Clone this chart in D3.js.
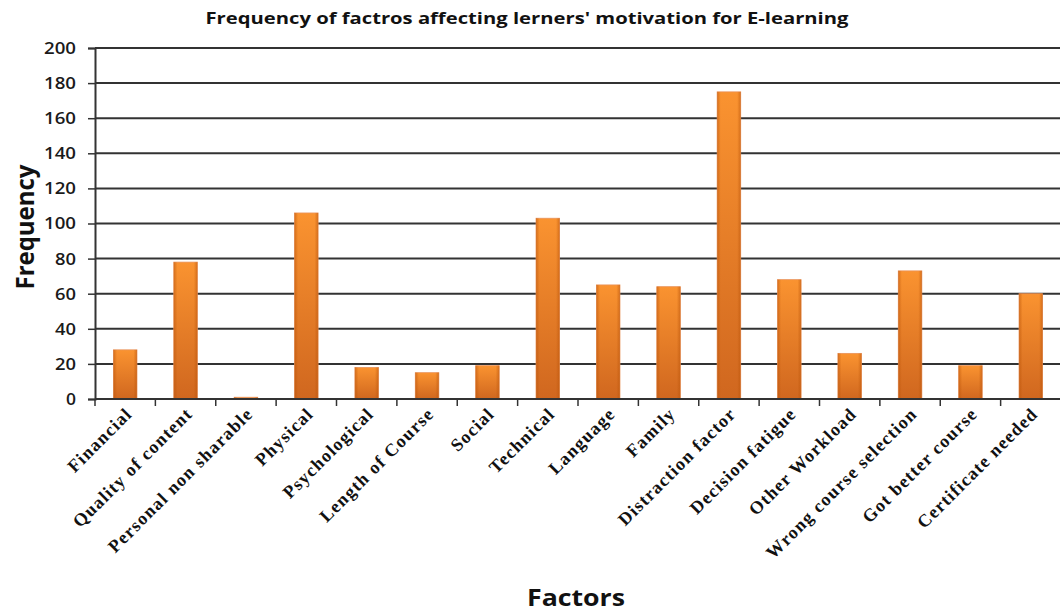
<!DOCTYPE html>
<html>
<head>
<meta charset="utf-8">
<script src="https://cdnjs.cloudflare.com/ajax/libs/d3/7.8.5/d3.min.js"></script>
<style>
  body { margin: 0; background: #fff; }
  svg { display: block; }
</style>
</head>
<body>
<svg id="chart"></svg>
<script>
// data
const factors = ["Financial", "Quality of content", "Personal non sharable", "Physical",
  "Psychological", "Length of Course", "Social", "Technical", "Language", "Family",
  "Distraction factor", "Decision fatigue", "Other Workload", "Wrong course selection",
  "Got better course", "Certificate needed"];
const frequency = [28, 78, 1, 106, 18, 15, 19, 103, 65, 64, 175, 68, 26, 73, 19, 60];
const yTicks = [0, 20, 40, 60, 80, 100, 120, 140, 160, 180, 200];

const width = 1060, height = 614;
const margin = {top: 48, right: -1, bottom: 215, left: 95};

const svg = d3.select("#chart").attr("width", width).attr("height", height);

const x = d3.scaleBand()
  .domain(factors)
  .range([margin.left, width - margin.right])
  .paddingInner(0.61)
  .paddingOuter(0.305);

const y = d3.scaleLinear()
  .domain([0, 200])
  .range([height - margin.bottom, margin.top]);

// gradient for the bars
const defs = svg.append("defs");
const grad = defs.append("linearGradient").attr("id", "barGrad")
  .attr("x1", 0).attr("y1", 0).attr("x2", 0).attr("y2", 1);
grad.append("stop").attr("offset", "0%").attr("stop-color", "#fa9330");
grad.append("stop").attr("offset", "100%").attr("stop-color", "#d0671f");

const edge = defs.append("linearGradient").attr("id", "edgeGrad")
  .attr("x1", 0).attr("y1", 0).attr("x2", 1).attr("y2", 0);
edge.append("stop").attr("offset", "0%").attr("stop-color", "#b95308").attr("stop-opacity", 0.55);
edge.append("stop").attr("offset", "15%").attr("stop-color", "#b95308").attr("stop-opacity", 0);
edge.append("stop").attr("offset", "85%").attr("stop-color", "#b95308").attr("stop-opacity", 0);
edge.append("stop").attr("offset", "100%").attr("stop-color", "#b95308").attr("stop-opacity", 0.55);

// gridlines
svg.append("g")
  .selectAll("line")
  .data(yTicks.filter(d => d > 0))
  .join("line")
    .attr("x1", margin.left)
    .attr("x2", width)
    .attr("y1", d => y(d))
    .attr("y2", d => y(d))
    .attr("stroke", "#333")
    .attr("stroke-width", 2);

// bars
const bars = svg.append("g");
bars.selectAll("rect.bar")
  .data(frequency)
  .join("rect")
    .attr("class", "bar")
    .attr("x", (d, i) => x(factors[i]))
    .attr("y", d => y(d))
    .attr("width", x.bandwidth())
    .attr("height", d => y(0) - y(d))
    .attr("fill", "url(#barGrad)")
    .attr("stroke", "#e8925a")
    .attr("stroke-width", 0.8);
bars.selectAll("rect.edge")
  .data(frequency)
  .join("rect")
    .attr("class", "edge")
    .attr("x", (d, i) => x(factors[i]))
    .attr("y", d => y(d))
    .attr("width", x.bandwidth())
    .attr("height", d => y(0) - y(d))
    .attr("fill", "url(#edgeGrad)");

// y axis
const yAxis = svg.append("g")
  .attr("transform", `translate(${margin.left},0)`)
  .call(d3.axisLeft(y).tickValues(yTicks).tickSize(7).tickPadding(12));
yAxis.select(".domain").attr("stroke", "#333").attr("stroke-width", 2);
yAxis.selectAll(".tick line").attr("stroke", "#333").attr("stroke-width", 1.5);
yAxis.selectAll(".tick text")
  .attr("font-family", "'Open Sans', sans-serif")
  .attr("font-size", 17)
  .attr("font-weight", 600)
  .attr("textLength", d => d >= 100 ? 32 : d > 0 ? 21 : 10)
  .attr("lengthAdjust", "spacingAndGlyphs")
  .attr("fill", "#1a1a1a");

// x axis baseline + ticks at band boundaries
const step = x.step();
const boundaries = d3.range(factors.length + 1).map(i => margin.left + i * step);
svg.append("line")
  .attr("x1", margin.left).attr("x2", width)
  .attr("y1", y(0)).attr("y2", y(0))
  .attr("stroke", "#333").attr("stroke-width", 2);
svg.append("g").selectAll("line")
  .data(boundaries)
  .join("line")
    .attr("x1", d => d).attr("x2", d => d)
    .attr("y1", y(0)).attr("y2", y(0) + 7)
    .attr("stroke", "#333").attr("stroke-width", 1.5);

// x labels, rotated
svg.append("g").selectAll("text")
  .data(factors)
  .join("text")
    .attr("transform", d => `translate(${x(d) + x.bandwidth() / 2 + 8},${y(0) + 16}) rotate(-45)`)
    .attr("text-anchor", "end")
    .attr("font-family", "'Liberation Serif', serif")
    .attr("font-size", 18)
    .attr("font-weight", "bold")
    .attr("letter-spacing", 1.2)
    .attr("fill", "#111")
    .text(d => d);

// title
svg.append("text")
  .attr("x", 527).attr("y", 24)
  .attr("text-anchor", "middle")
  .attr("font-family", "'Open Sans', sans-serif")
  .attr("font-size", 15.5)
  .attr("font-weight", "bold")
  .attr("textLength", 643)
  .attr("lengthAdjust", "spacingAndGlyphs")
  .attr("fill", "#111")
  .text("Frequency of factros affecting  lerners' motivation for E-learning");

// axis titles
svg.append("text")
  .attr("transform", "translate(34,227) rotate(-90)")
  .attr("text-anchor", "middle")
  .attr("font-family", "'Open Sans', sans-serif")
  .attr("font-size", 25)
  .attr("font-weight", "bold")
  .attr("textLength", 125)
  .attr("lengthAdjust", "spacingAndGlyphs")
  .attr("fill", "#111")
  .text("Frequency");

svg.append("text")
  .attr("x", 576).attr("y", 606)
  .attr("text-anchor", "middle")
  .attr("font-family", "'Open Sans', sans-serif")
  .attr("font-size", 24)
  .attr("font-weight", "bold")
  .attr("textLength", 98)
  .attr("lengthAdjust", "spacingAndGlyphs")
  .attr("fill", "#111")
  .text("Factors");
</script>
</body>
</html>
